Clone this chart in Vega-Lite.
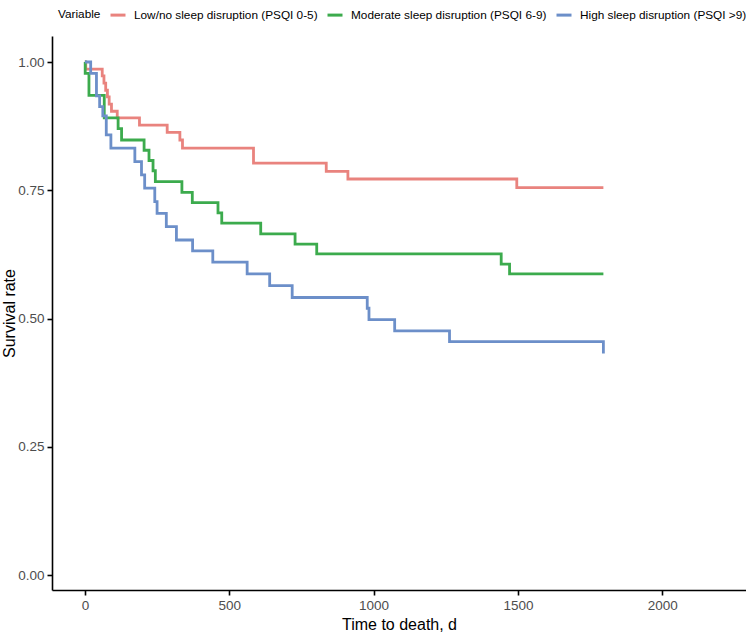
{
  "$schema": "https://vega.github.io/schema/vega-lite/v6.json",
  "width": 694,
  "height": 554,
  "autosize": {"type": "none"},
  "padding": {"left": 52, "top": 36, "right": 0, "bottom": 51},
  "background": "white",
  "config": {
    "view": {"stroke": null},
    "font": "Liberation Sans",
    "axis": {
      "grid": false,
      "domainColor": "black",
      "domainWidth": 1.6,
      "tickColor": "black",
      "tickWidth": 1.6,
      "tickSize": 5,
      "labelColor": "#4D4D4D",
      "labelFontSize": 13.5,
      "labelFont": "Liberation Sans",
      "titleFont": "Liberation Sans",
      "titleFontSize": 16,
      "titleFontWeight": "normal",
      "titleColor": "black"
    }
  },
  "data": {
    "values": [
      {"group": "Low/no sleep disruption (PSQI 0-5)", "t": 0, "s": 1.0},
      {"group": "Low/no sleep disruption (PSQI 0-5)", "t": 3, "s": 0.986},
      {"group": "Low/no sleep disruption (PSQI 0-5)", "t": 60, "s": 0.973},
      {"group": "Low/no sleep disruption (PSQI 0-5)", "t": 66, "s": 0.959},
      {"group": "Low/no sleep disruption (PSQI 0-5)", "t": 72, "s": 0.945},
      {"group": "Low/no sleep disruption (PSQI 0-5)", "t": 78, "s": 0.932},
      {"group": "Low/no sleep disruption (PSQI 0-5)", "t": 84, "s": 0.918},
      {"group": "Low/no sleep disruption (PSQI 0-5)", "t": 92, "s": 0.904},
      {"group": "Low/no sleep disruption (PSQI 0-5)", "t": 112, "s": 0.891},
      {"group": "Low/no sleep disruption (PSQI 0-5)", "t": 189, "s": 0.877},
      {"group": "Low/no sleep disruption (PSQI 0-5)", "t": 285, "s": 0.863},
      {"group": "Low/no sleep disruption (PSQI 0-5)", "t": 329, "s": 0.848},
      {"group": "Low/no sleep disruption (PSQI 0-5)", "t": 338, "s": 0.832},
      {"group": "Low/no sleep disruption (PSQI 0-5)", "t": 584, "s": 0.803},
      {"group": "Low/no sleep disruption (PSQI 0-5)", "t": 836, "s": 0.787},
      {"group": "Low/no sleep disruption (PSQI 0-5)", "t": 911, "s": 0.772},
      {"group": "Low/no sleep disruption (PSQI 0-5)", "t": 1496, "s": 0.755},
      {"group": "Low/no sleep disruption (PSQI 0-5)", "t": 1796, "s": 0.755},
      {"group": "Moderate sleep disruption (PSQI 6-9)", "t": 0, "s": 1.0},
      {"group": "Moderate sleep disruption (PSQI 6-9)", "t": 1, "s": 0.978},
      {"group": "Moderate sleep disruption (PSQI 6-9)", "t": 14, "s": 0.935},
      {"group": "Moderate sleep disruption (PSQI 6-9)", "t": 67, "s": 0.891},
      {"group": "Moderate sleep disruption (PSQI 6-9)", "t": 115, "s": 0.870},
      {"group": "Moderate sleep disruption (PSQI 6-9)", "t": 127, "s": 0.848},
      {"group": "Moderate sleep disruption (PSQI 6-9)", "t": 205, "s": 0.828},
      {"group": "Moderate sleep disruption (PSQI 6-9)", "t": 222, "s": 0.808},
      {"group": "Moderate sleep disruption (PSQI 6-9)", "t": 236, "s": 0.788},
      {"group": "Moderate sleep disruption (PSQI 6-9)", "t": 244, "s": 0.767},
      {"group": "Moderate sleep disruption (PSQI 6-9)", "t": 336, "s": 0.746},
      {"group": "Moderate sleep disruption (PSQI 6-9)", "t": 372, "s": 0.726},
      {"group": "Moderate sleep disruption (PSQI 6-9)", "t": 461, "s": 0.706},
      {"group": "Moderate sleep disruption (PSQI 6-9)", "t": 474, "s": 0.686},
      {"group": "Moderate sleep disruption (PSQI 6-9)", "t": 609, "s": 0.665},
      {"group": "Moderate sleep disruption (PSQI 6-9)", "t": 728, "s": 0.645},
      {"group": "Moderate sleep disruption (PSQI 6-9)", "t": 803, "s": 0.626},
      {"group": "Moderate sleep disruption (PSQI 6-9)", "t": 1442, "s": 0.606},
      {"group": "Moderate sleep disruption (PSQI 6-9)", "t": 1471, "s": 0.587},
      {"group": "Moderate sleep disruption (PSQI 6-9)", "t": 1796, "s": 0.587},
      {"group": "High sleep disruption (PSQI >9)", "t": 0, "s": 1.0},
      {"group": "High sleep disruption (PSQI >9)", "t": 20, "s": 0.978},
      {"group": "High sleep disruption (PSQI >9)", "t": 40, "s": 0.934},
      {"group": "High sleep disruption (PSQI >9)", "t": 51, "s": 0.913},
      {"group": "High sleep disruption (PSQI >9)", "t": 62, "s": 0.895},
      {"group": "High sleep disruption (PSQI >9)", "t": 74, "s": 0.858},
      {"group": "High sleep disruption (PSQI >9)", "t": 90, "s": 0.832},
      {"group": "High sleep disruption (PSQI >9)", "t": 173, "s": 0.806},
      {"group": "High sleep disruption (PSQI >9)", "t": 196, "s": 0.780},
      {"group": "High sleep disruption (PSQI >9)", "t": 207, "s": 0.754},
      {"group": "High sleep disruption (PSQI >9)", "t": 242, "s": 0.728},
      {"group": "High sleep disruption (PSQI >9)", "t": 250, "s": 0.705},
      {"group": "High sleep disruption (PSQI >9)", "t": 282, "s": 0.679},
      {"group": "High sleep disruption (PSQI >9)", "t": 317, "s": 0.653},
      {"group": "High sleep disruption (PSQI >9)", "t": 373, "s": 0.632},
      {"group": "High sleep disruption (PSQI >9)", "t": 443, "s": 0.610},
      {"group": "High sleep disruption (PSQI >9)", "t": 562, "s": 0.587},
      {"group": "High sleep disruption (PSQI >9)", "t": 640, "s": 0.564},
      {"group": "High sleep disruption (PSQI >9)", "t": 718, "s": 0.541},
      {"group": "High sleep disruption (PSQI >9)", "t": 978, "s": 0.520},
      {"group": "High sleep disruption (PSQI >9)", "t": 984, "s": 0.498},
      {"group": "High sleep disruption (PSQI >9)", "t": 1073, "s": 0.476},
      {"group": "High sleep disruption (PSQI >9)", "t": 1263, "s": 0.455},
      {"group": "High sleep disruption (PSQI >9)", "t": 1796, "s": 0.432}
    ]
  },
  "mark": {"type": "line", "interpolate": "step-after", "strokeWidth": 2.8},
  "encoding": {
    "x": {
      "field": "t",
      "type": "quantitative",
      "title": "Time to death, d",
      "scale": {"domain": [-114, 2290], "nice": false, "zero": false},
      "axis": {"values": [0, 500, 1000, 1500, 2000], "format": "d", "labelPadding": 3, "titlePadding": 5}
    },
    "y": {
      "field": "s",
      "type": "quantitative",
      "title": "Survival rate",
      "scale": {"domain": [-0.0292, 1.0507], "nice": false, "zero": false},
      "axis": {"values": [0, 0.25, 0.5, 0.75, 1], "format": ".2f", "labelPadding": 3, "titlePadding": 0}
    },
    "color": {
      "field": "group",
      "type": "nominal",
      "sort": null,
      "scale": {
        "domain": ["Low/no sleep disruption (PSQI 0-5)", "Moderate sleep disruption (PSQI 6-9)", "High sleep disruption (PSQI >9)"],
        "range": ["#E9837E", "#3CAB4D", "#6C8FC9"]
      },
      "legend": {
        "title": "Variable",
        "orient": "none",
        "direction": "horizontal",
        "legendX": 6,
        "legendY": -30,
        "titleOrient": "left",
        "titleFontSize": 11.8,
        "titleFontWeight": "normal",
        "titleColor": "black",
        "titleFont": "Liberation Sans",
        "titlePadding": 8,
        "labelFontSize": 11.8,
        "labelColor": "black",
        "labelFont": "Liberation Sans",
        "labelOffset": 7,
        "labelLimit": 400,
        "symbolType": "stroke",
        "symbolSize": 225,
        "symbolStrokeWidth": 3,
        "columnPadding": 3
      }
    }
  }
}
